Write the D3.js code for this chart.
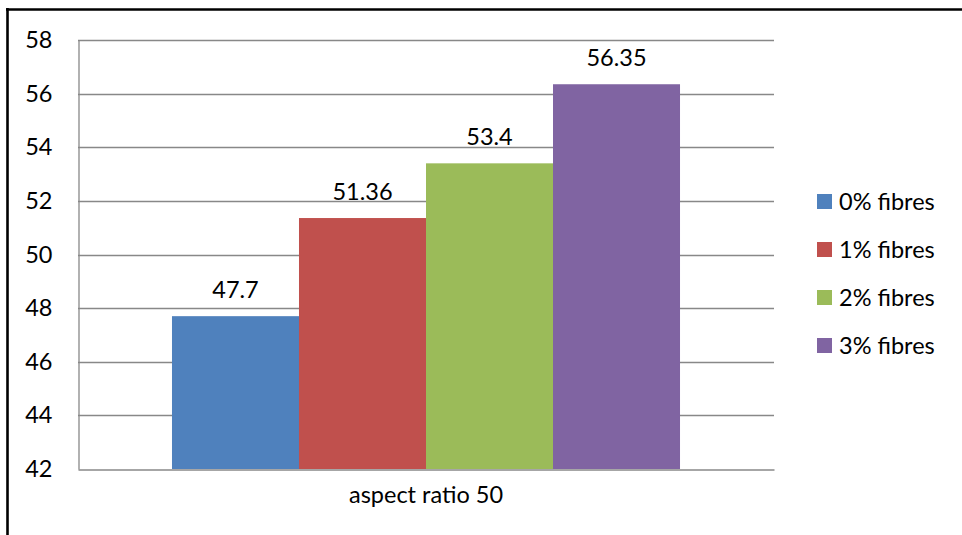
<!DOCTYPE html>
<html>
<head>
<meta charset="utf-8">
<script src="https://cdn.jsdelivr.net/npm/d3@7"></script>
<style>
  html, body { margin: 0; padding: 0; background: #ffffff; }
  svg { display: block; }
  text { font-family: Lato, "Open Sans", sans-serif; fill: #000; }
</style>
</head>
<body>
<svg id="chart" width="962" height="535"></svg>
<script>
// Chart data
const category = "aspect ratio 50";
const seriesNames = ["0% fibres", "1% fibres", "2% fibres", "3% fibres"];
const seriesValues = [47.7, 51.36, 53.4, 56.35];
const seriesColors = ["#4F81BD", "#C0504D", "#9BBB59", "#8064A2"];
const yTicks = [42, 44, 46, 48, 50, 52, 54, 56, 58];

const W = 962, H = 535;
const plot = { left: 78, right: 774, top: 40, bottom: 469 };
const fontSize = 23.5;

const svg = d3.select("#chart");

// Outer frame (left and top edges)
svg.append("line").attr("x1", 7.5).attr("x2", 7.5).attr("y1", 8).attr("y2", H)
  .attr("stroke", "#000").attr("stroke-width", 2.6);
svg.append("line").attr("x1", 6).attr("x2", W).attr("y1", 9.5).attr("y2", 9.5)
  .attr("stroke", "#000").attr("stroke-width", 2.6);

const y = d3.scaleLinear().domain([42, 58]).range([plot.bottom, plot.top]);
const x0 = d3.scaleBand().domain([category]).range([plot.left, plot.right]).paddingInner(0).paddingOuter(0.185);
const x1 = d3.scaleBand().domain(seriesNames).range([0, x0.bandwidth()]).padding(0);

// Horizontal gridlines
svg.append("g").selectAll("line").data(yTicks.slice(1)).join("line")
  .attr("x1", plot.left).attr("x2", plot.right)
  .attr("y1", d => Math.round(y(d)) + 0.5).attr("y2", d => Math.round(y(d)) + 0.5)
  .attr("stroke", "#888888").attr("stroke-width", 1.3);

// Y axis
const yAxis = svg.append("g")
  .attr("transform", `translate(${plot.left + 0.5},0)`)
  .call(d3.axisLeft(y).tickValues(yTicks).tickSize(0).tickPadding(26).tickFormat(d3.format("d")));
yAxis.select(".domain").attr("stroke", "#888888").attr("stroke-width", 1.3);
yAxis.selectAll("text").attr("font-size", fontSize).attr("font-family", "Lato, sans-serif").attr("fill", "#000");

// Bars
const bars = svg.append("g");
bars.selectAll("rect").data(seriesValues).join("rect")
  .attr("x", (d, i) => x0(category) + x1(seriesNames[i]))
  .attr("width", x1.bandwidth())
  .attr("y", d => y(d))
  .attr("height", d => y(42) - y(d))
  .attr("fill", (d, i) => seriesColors[i]);

// Value labels
svg.append("g").selectAll("text").data(seriesValues).join("text")
  .attr("x", (d, i) => x0(category) + x1(seriesNames[i]) + x1.bandwidth() / 2)
  .attr("y", d => y(d) - 18)
  .attr("text-anchor", "middle")
  .attr("font-size", fontSize)
  .text(d => d);

// X axis
const xAxis = svg.append("g")
  .attr("transform", `translate(0,${Math.round(plot.bottom) + 0.5})`)
  .call(d3.axisBottom(x0).tickSize(0).tickPadding(17));
xAxis.select(".domain").attr("stroke", "#888888").attr("stroke-width", 1.3);
xAxis.selectAll("text").attr("font-size", fontSize).attr("font-family", "Lato, sans-serif").attr("fill", "#000");

// Legend
const legend = svg.append("g").attr("transform", "translate(817,194)");
const items = legend.selectAll("g").data(seriesNames).join("g")
  .attr("transform", (d, i) => `translate(0,${i * 48})`);
items.append("rect").attr("width", 15).attr("height", 15)
  .attr("fill", (d, i) => seriesColors[i]);
items.append("text").attr("x", 22).attr("y", 7.5).attr("dy", "0.35em")
  .attr("font-size", fontSize).text(d => d);
</script>
</body>
</html>
